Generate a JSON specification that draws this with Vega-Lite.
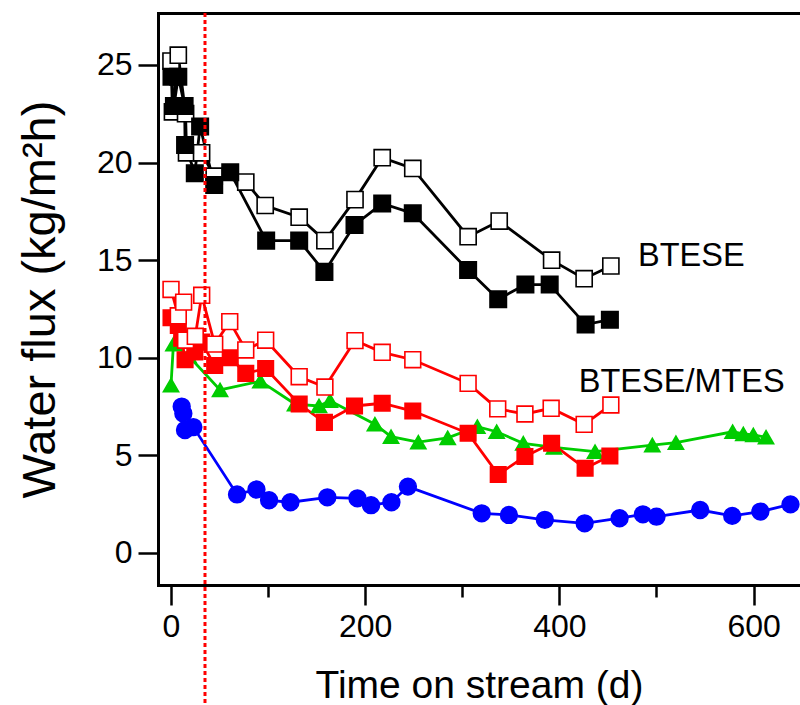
{
  "$schema": "https://vega.github.io/schema/vega-lite/v6.json",
  "width": 642,
  "height": 572,
  "autosize": "none",
  "padding": {"left": 158, "top": 13, "right": 0, "bottom": 120},
  "background": "white",
  "config": {"view": {"stroke": null}, "font": "Liberation Sans"},
  "data": {"values": [
    {"series":"G","t":0,"flux":8.6},{"series":"G","t":2.5,"flux":10.7},{"series":"G","t":18,"flux":10.1},{"series":"G","t":50.5,"flux":8.35},{"series":"G","t":92,"flux":8.8},{"series":"G","t":127.7,"flux":7.63},{"series":"G","t":152.4,"flux":7.53},{"series":"G","t":163.7,"flux":7.8},{"series":"G","t":210,"flux":6.6},{"series":"G","t":226.6,"flux":5.96},{"series":"G","t":254.7,"flux":5.68},{"series":"G","t":285,"flux":5.9},{"series":"G","t":315.5,"flux":6.47},{"series":"G","t":335.4,"flux":6.21},{"series":"G","t":362.8,"flux":5.62},{"series":"G","t":394.4,"flux":5.41},{"series":"G","t":436.7,"flux":5.19},{"series":"G","t":495.7,"flux":5.53},{"series":"G","t":520,"flux":5.65},{"series":"G","t":578.4,"flux":6.21},{"series":"G","t":589.4,"flux":6.1},{"series":"G","t":599.7,"flux":6.05},{"series":"G","t":612.8,"flux":5.93},
    {"series":"RF","t":0,"flux":12.05},{"series":"RF","t":7.5,"flux":11.65},{"series":"RF","t":11,"flux":11.0},{"series":"RF","t":14.5,"flux":9.9},{"series":"RF","t":24.5,"flux":10.3},{"series":"RF","t":31.5,"flux":10.8},{"series":"RF","t":45,"flux":9.6},{"series":"RF","t":61,"flux":10.0},{"series":"RF","t":77,"flux":9.2},{"series":"RF","t":97.5,"flux":9.45},{"series":"RF","t":132,"flux":7.63},{"series":"RF","t":158,"flux":6.69},{"series":"RF","t":189,"flux":7.53},{"series":"RF","t":217.5,"flux":7.67},{"series":"RF","t":249,"flux":7.27},{"series":"RF","t":306,"flux":6.13},{"series":"RF","t":337,"flux":4.02},{"series":"RF","t":364.5,"flux":4.94},{"series":"RF","t":392,"flux":5.62},{"series":"RF","t":426.5,"flux":4.34},{"series":"RF","t":452,"flux":4.97},
    {"series":"RO","t":0,"flux":13.5},{"series":"RO","t":7.5,"flux":12.15},{"series":"RO","t":13,"flux":12.85},{"series":"RO","t":15,"flux":10.9},{"series":"RO","t":25,"flux":11.1},{"series":"RO","t":31.6,"flux":13.2},{"series":"RO","t":45,"flux":10.7},{"series":"RO","t":60.5,"flux":11.85},{"series":"RO","t":77,"flux":10.4},{"series":"RO","t":97.5,"flux":10.9},{"series":"RO","t":132,"flux":9.03},{"series":"RO","t":158.5,"flux":8.5},{"series":"RO","t":189.5,"flux":10.88},{"series":"RO","t":217.5,"flux":10.28},{"series":"RO","t":249,"flux":9.9},{"series":"RO","t":306,"flux":8.69},{"series":"RO","t":336.5,"flux":7.38},{"series":"RO","t":364.5,"flux":7.12},{"series":"RO","t":391.5,"flux":7.41},{"series":"RO","t":425.5,"flux":6.59},{"series":"RO","t":453,"flux":7.58},
    {"series":"BO","t":0,"flux":25.2},{"series":"BO","t":1.5,"flux":22.6},{"series":"BO","t":7.5,"flux":25.5},{"series":"BO","t":15,"flux":22.5},{"series":"BO","t":16,"flux":20.5},{"series":"BO","t":31.5,"flux":20.5},{"series":"BO","t":44.5,"flux":19.3},{"series":"BO","t":77,"flux":19.0},{"series":"BO","t":97,"flux":17.8},{"series":"BO","t":132,"flux":17.2},{"series":"BO","t":158.5,"flux":16.0},{"series":"BO","t":189.5,"flux":18.1},{"series":"BO","t":217.5,"flux":20.25},{"series":"BO","t":249,"flux":19.7},{"series":"BO","t":306,"flux":16.2},{"series":"BO","t":338,"flux":17.0},{"series":"BO","t":392,"flux":15.0},{"series":"BO","t":425.5,"flux":14.05},{"series":"BO","t":453,"flux":14.7},
    {"series":"BF","t":0.5,"flux":24.4},{"series":"BF","t":3,"flux":22.9},{"series":"BF","t":7.5,"flux":24.4},{"series":"BF","t":14,"flux":22.9},{"series":"BF","t":14.5,"flux":20.9},{"series":"BF","t":24.5,"flux":19.45},{"series":"BF","t":30,"flux":21.85},{"series":"BF","t":44.5,"flux":18.85},{"series":"BF","t":61,"flux":19.5},{"series":"BF","t":98,"flux":16.0},{"series":"BF","t":132,"flux":16.0},{"series":"BF","t":158,"flux":14.4},{"series":"BF","t":189,"flux":16.8},{"series":"BF","t":217.5,"flux":17.9},{"series":"BF","t":249,"flux":17.4},{"series":"BF","t":306,"flux":14.5},{"series":"BF","t":337,"flux":13.0},{"series":"BF","t":365,"flux":13.75},{"series":"BF","t":390,"flux":13.75},{"series":"BF","t":427,"flux":11.7},{"series":"BF","t":452,"flux":11.95},
    {"series":"B","t":11,"flux":7.5},{"series":"B","t":12.7,"flux":7.15},{"series":"B","t":14.4,"flux":6.3},{"series":"B","t":23,"flux":6.45},{"series":"B","t":68,"flux":3.0},{"series":"B","t":88,"flux":3.25},{"series":"B","t":101,"flux":2.7},{"series":"B","t":123,"flux":2.6},{"series":"B","t":161,"flux":2.85},{"series":"B","t":192,"flux":2.8},{"series":"B","t":206,"flux":2.45},{"series":"B","t":227,"flux":2.6},{"series":"B","t":244,"flux":3.4},{"series":"B","t":320,"flux":2.03},{"series":"B","t":348,"flux":1.95},{"series":"B","t":385,"flux":1.7},{"series":"B","t":426,"flux":1.52},{"series":"B","t":462,"flux":1.78},{"series":"B","t":486,"flux":1.98},{"series":"B","t":500,"flux":1.86},{"series":"B","t":545,"flux":2.2},{"series":"B","t":578,"flux":1.9},{"series":"B","t":607,"flux":2.12},{"series":"B","t":638,"flux":2.49}
  ]},
  "resolve": {"axis": {"x": "independent", "y": "independent"}},
  "layer": [
    {
      "mark": {"type": "line", "strokeWidth": 2.8},
      "encoding": {
        "x": {"field": "t", "type": "quantitative",
          "scale": {"domain": [-13.4, 647.8], "nice": false, "zero": false},
          "axis": {"orient": "bottom", "values": [0, 100, 200, 300, 400, 500, 600], "grid": false, "domainWidth": 3, "domainColor": "black", "domainCap": "square",
            "tickColor": "black", "tickWidth": 2.5,
            "tickSize": {"condition": {"test": "datum.value % 200 === 0", "value": 20}, "value": 12},
            "labelExpr": "datum.value % 200 === 0 ? datum.label : ''",
            "labelFontSize": 32, "labelColor": "black", "labelPadding": 6,
            "title": "Time on stream (d)", "titleFontSize": 39, "titleFontWeight": "normal", "titleColor": "black", "titlePadding": 24}},
        "y": {"field": "flux", "type": "quantitative",
          "scale": {"domain": [-1.64, 27.66], "nice": false, "zero": false},
          "axis": {"orient": "left", "values": [0, 5, 10, 15, 20, 25], "grid": false, "domainWidth": 3, "domainColor": "black", "domainCap": "square",
            "tickColor": "black", "tickWidth": 2.5, "tickSize": 20, "labelFontSize": 32, "labelColor": "black", "labelPadding": 6,
            "title": "Water flux (kg/m²h)", "titleFontSize": 47, "titleFontWeight": "normal", "titleColor": "black", "titlePadding": 32}},
        "color": {"field": "series", "type": "nominal", "legend": null,
          "scale": {"domain": ["G", "RF", "RO", "BO", "BF", "B"], "range": ["#00cc00", "#ff0000", "#ff0000", "#000000", "#000000", "#0000ff"]}}
      }
    },
    {
      "mark": {"type": "point", "filled": true, "strokeWidth": 1.6, "opacity": 1},
      "encoding": {
        "x": {"field": "t", "type": "quantitative", "axis": null},
        "y": {"field": "flux", "type": "quantitative", "axis": null},
        "shape": {"field": "series", "type": "nominal", "legend": null,
          "scale": {"domain": ["G", "RF", "RO", "BO", "BF", "B"], "range": ["triangle-up", "square", "square", "square", "square", "circle"]}},
        "fill": {"field": "series", "type": "nominal", "legend": null,
          "scale": {"domain": ["G", "RF", "RO", "BO", "BF", "B"], "range": ["#00cc00", "#ff0000", "#ffffff", "#ffffff", "#000000", "#0000ff"]}},
        "stroke": {"field": "series", "type": "nominal", "legend": null,
          "scale": {"domain": ["G", "RF", "RO", "BO", "BF", "B"], "range": ["#00cc00", "#ff0000", "#ff0000", "#000000", "#000000", "#0000ff"]}},
        "size": {"field": "series", "type": "ordinal", "legend": null,
          "scale": {"domain": ["G", "RF", "RO", "BO", "BF", "B"], "range": [230, 280, 250, 250, 280, 260]}}
      }
    },
    {
      "data": {"values": [{"t": 35}]},
      "mark": {"type": "rule", "color": "#ff0000", "strokeWidth": 3, "strokeDash": [4, 3]},
      "encoding": {
        "x": {"field": "t", "type": "quantitative",
          "axis": {"orient": "top", "labels": false, "ticks": false, "grid": false, "domainWidth": 3, "domainColor": "black", "domainCap": "square", "title": null}},
        "y": {"datum": 27.66, "type": "quantitative", "axis": null},
        "y2": {"datum": -8}
      }
    },
    {
      "data": {"values": [{"label": "BTESE", "t": 481, "flux": 14.7}, {"label": "BTESE/MTES", "t": 420, "flux": 8.25}]},
      "mark": {"type": "text", "align": "left", "baseline": "alphabetic", "fontSize": 32.5, "color": "black"},
      "encoding": {
        "x": {"field": "t", "type": "quantitative", "axis": null},
        "y": {"field": "flux", "type": "quantitative", "axis": null},
        "text": {"field": "label"}
      }
    }
  ]
}
